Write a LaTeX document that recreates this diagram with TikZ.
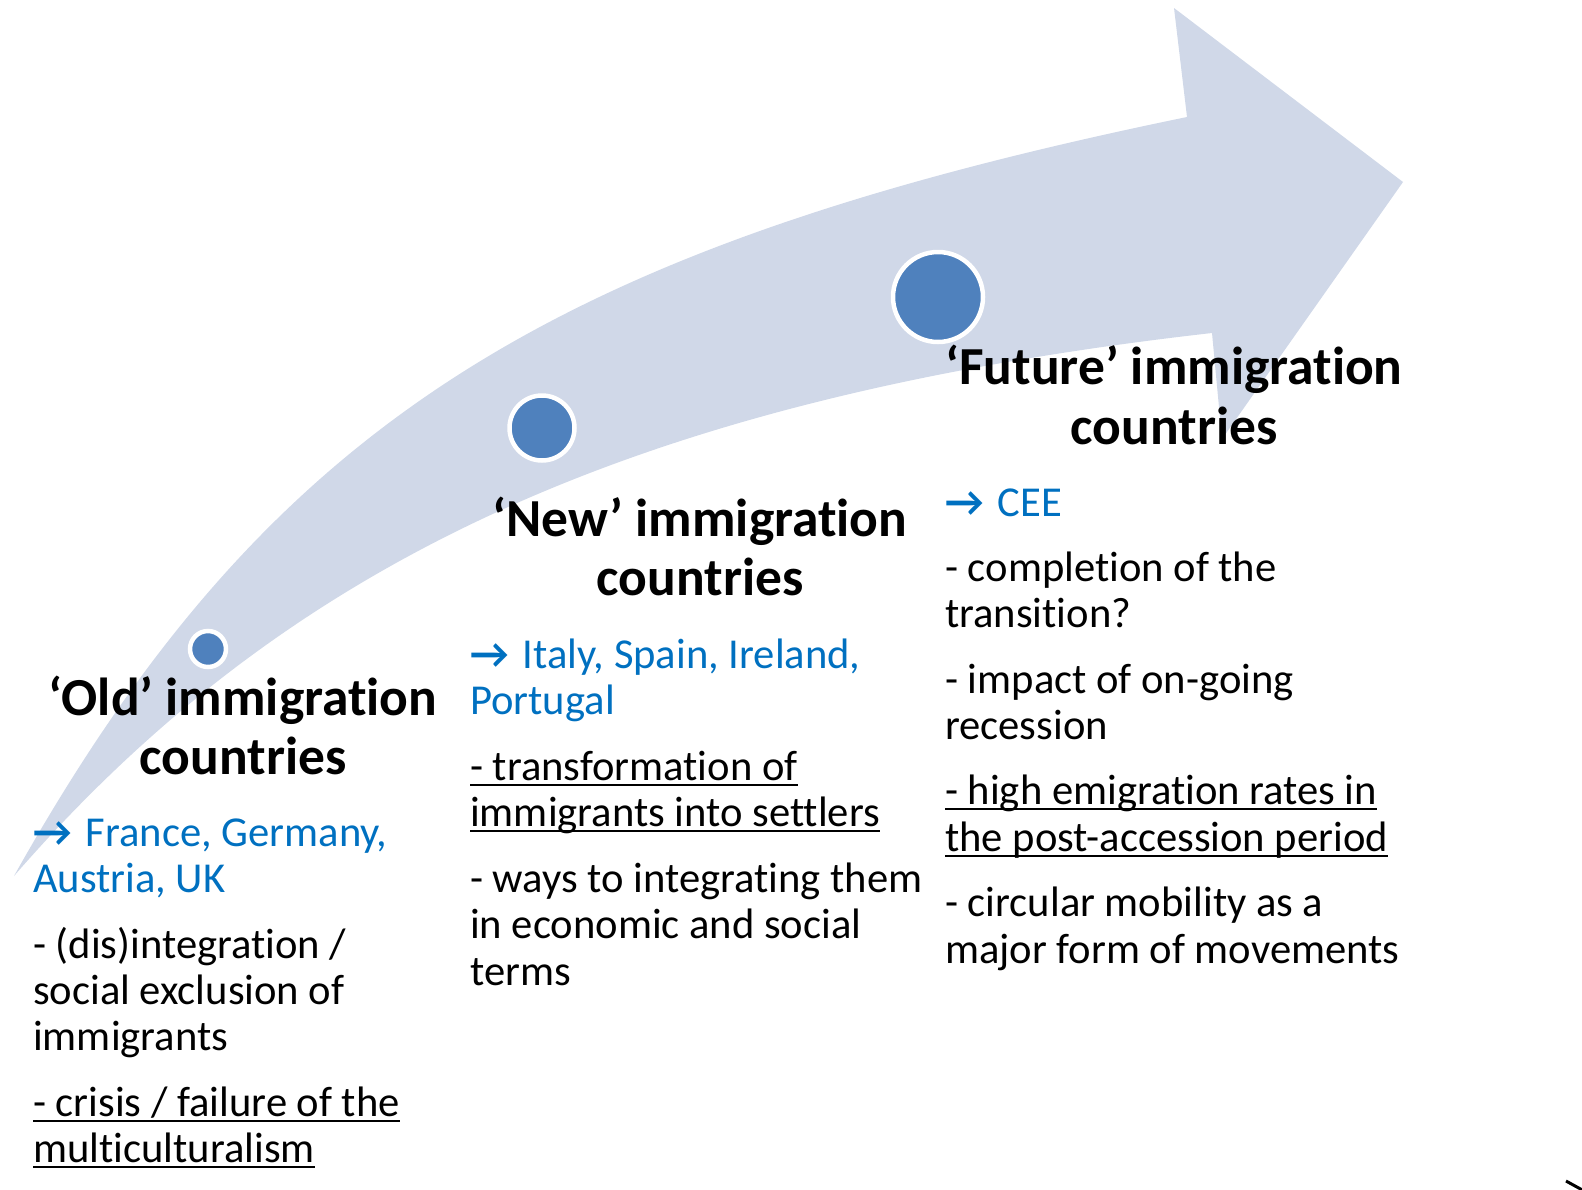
\documentclass[tikz,border=0pt]{standalone}
\usepackage{fontspec}
\setmainfont{Carlito}[Ligatures=NoCommon]
\definecolor{bandfill}{HTML}{D0D8E8}
\definecolor{dotfill}{HTML}{4F81BD}
\definecolor{listblue}{HTML}{0070C0}
% underline drawn as a rule of fixed depth under the whole line
\newcommand\ulinetext[1]{\setbox0\hbox{#1}\rlap{\rule[-6pt]{\wd0}{2.4pt}}\box0}
\newcommand\pointer{\textbf{→}\ \hspace{4.5pt}}
\begin{document}
\begin{tikzpicture}[x=1pt,y=-1pt,
  stage/.style={circle,fill=dotfill,draw=white,line width=4.5pt,inner sep=0},
  title/.style={font=\fontsize{53.5}{60}\selectfont\bfseries,anchor=base,inner sep=0},
  body/.style={font=\fontsize{42.6}{46}\selectfont,anchor=base west,inner sep=0},
  country/.style={body,text=listblue}]
\useasboundingbox (0,0) rectangle (1582,1189);

% curved timeline arrow
\fill[bandfill] (14,876) .. controls (268,423) and (550,248) .. (1187,117)
  -- (1174,8) -- (1403,182) -- (1222,439) -- (1212,333)
  .. controls (620,400) and (280,570) .. (14,876) -- cycle;

% stage markers
\node[stage,minimum size=36pt] (m1) at (208,649) {};
\node[stage,minimum size=65pt] (m2) at (542,428) {};
\node[stage,minimum size=90pt] (m3) at (938,297) {};

% old immigration countries
\node[title] (t1a) at (243,715) {‘Old’ immigration};
\node[title] (t1b) at (243,774) {countries};
\node[country] (c1a) at (33,846) {\pointer France, Germany,};
\node[country] (c1b) at (33,892) {Austria, UK};
\node[body] (p1a) at (33,958) {- (dis)integration /};
\node[body] (p1b) at (33,1004) {social exclusion of};
\node[body] (p1c) at (33,1050) {immigrants};
\node[body] (p1d) at (33,1116) {\ulinetext{- crisis / failure of the}};
\node[body] (p1e) at (33,1162) {\ulinetext{multiculturalism}};

% new immigration countries
\node[title] (t2a) at (700,536) {‘New’ immigration};
\node[title] (t2b) at (700,595) {countries};
\node[country] (c2a) at (470,668) {\pointer Italy, Spain, Ireland,};
\node[country] (c2b) at (470,714) {Portugal};
\node[body] (p2a) at (470,780) {\ulinetext{- transformation of}};
\node[body] (p2b) at (470,826) {\ulinetext{immigrants into settlers}};
\node[body] (p2c) at (470,892) {- ways to integrating them};
\node[body] (p2d) at (470,938) {in economic and social};
\node[body] (p2e) at (470,985) {terms};

% future immigration countries
\node[title] (t3a) at (1174,384) {‘Future’ immigration};
\node[title] (t3b) at (1174,444) {countries};
\node[country] (c3a) at (945,516) {\pointer CEE};
\node[body] (p3a) at (945,581) {- completion of the};
\node[body] (p3b) at (945,627) {transition?};
\node[body] (p3c) at (945,693) {- impact of on-going};
\node[body] (p3d) at (945,739) {recession};
\node[body] (p3e) at (945,804) {\ulinetext{- high emigration rates in}};
\node[body] (p3f) at (945,851) {\ulinetext{the post-accession period}};
\node[body] (p3g) at (945,916) {- circular mobility as a};
\node[body] (p3h) at (945,963) {major form of movements};

% small stroke in the lower right corner
\draw[line width=3pt] (1566,1181) -- (1586,1192);
\end{tikzpicture}
\end{document}
